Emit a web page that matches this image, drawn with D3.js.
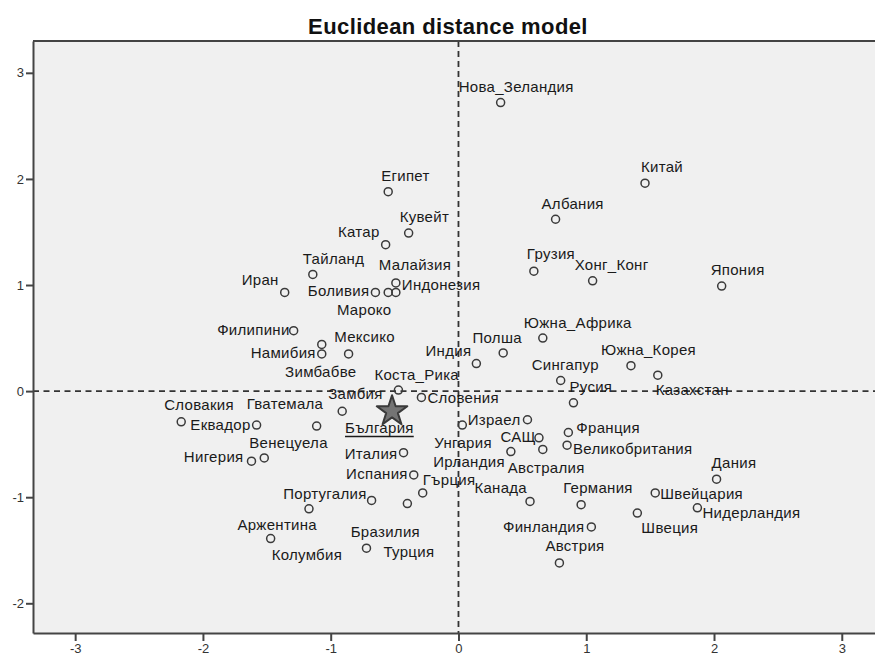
<!DOCTYPE html>
<html>
<head>
<meta charset="utf-8">
<script src="https://cdn.jsdelivr.net/npm/d3@7"></script>
<style>
  html, body { margin: 0; padding: 0; background: #ffffff; }
  svg { display: block; }
  text { font-family: Arial, "Liberation Sans", sans-serif; }
</style>
</head>
<body>
<svg id="chart" width="875" height="659"></svg>
<script>
// Two-dimensional MDS configuration (Euclidean distance model)
const countries = [
  "Нова_Зеландия", "Китай", "Албания", "Египет", "Кувейт", "Катар", "Тайланд", "Иран",
  "Боливия", "Мароко", "Малайзия", "Индонезия", "Грузия", "Хонг_Конг", "Япония", "Филипини",
  "Мексико", "Намибия", "Зимбабве", "Индия", "Полша", "Южна_Африка", "Сингапур", "Южна_Корея",
  "Казахстан", "Русия", "Коста_Рика", "Словения", "Замбия", "България", "Словакия", "Еквадор",
  "Гватемала", "Нигерия", "Венецуела", "Израел", "Унгария", "САЩ", "Ирландия", "Австралия",
  "Франция", "Великобритания", "Дания", "Швейцария", "Нидерландия", "Швеция", "Германия", "Канада",
  "Финландия", "Австрия", "Италия", "Испания", "Гърция", "Португалия", "Бразилия", "Аржентина",
  "Колумбия", "Турция"
];
const dimension1 = [
  0.33, 1.46, 0.76, -0.55, -0.39, -0.57, -1.14, -1.36,
  -0.65, -0.55, -0.49, -0.49, 0.59, 1.05, 2.06, -1.29,
  -0.86, -1.07, -1.07, 0.14, 0.35, 0.66, 0.80, 1.35,
  1.56, 0.90, -0.47, -0.29, -0.91, -0.52, -2.17, -1.58,
  -1.11, -1.62, -1.52, 0.54, 0.03, 0.63, 0.41, 0.66,
  0.86, 0.85, 2.02, 1.54, 1.87, 1.40, 0.96, 0.56,
  1.04, 0.79, -0.43, -0.35, -0.28, -0.68, -0.40, -1.17,
  -1.47, -0.72
];
const dimension2 = [
  2.72, 1.96, 1.62, 1.88, 1.49, 1.38, 1.10, 0.93,
  0.93, 0.93, 0.93, 1.02, 1.13, 1.04, 0.99, 0.57,
  0.35, 0.44, 0.35, 0.26, 0.36, 0.50, 0.10, 0.24,
  0.15, -0.11, 0.01, -0.06, -0.19, -0.19, -0.29, -0.32,
  -0.33, -0.66, -0.63, -0.27, -0.32, -0.44, -0.57, -0.55,
  -0.39, -0.51, -0.83, -0.96, -1.10, -1.15, -1.07, -1.04,
  -1.28, -1.62, -0.58, -0.79, -0.96, -1.03, -1.06, -1.11,
  -1.39, -1.48
];
const highlighted = "България";
const xTicks = [-3, -2, -1, 0, 1, 2, 3];
const yTicks = [-2, -1, 0, 1, 2, 3];
const chartTitle = "Euclidean distance model";

// Label placement around each marker: [dx, dy, text-anchor]
const labelPlacement = {
  "Нова_Зеландия": [-42, -16, "start"], "Китай": [-4, -17, "start"], "Албания": [-14, -16, "start"],
  "Египет": [-7, -16, "start"], "Кувейт": [-9, -17, "start"], "Катар": [-6, -13, "end"],
  "Тайланд": [-10, -16, "start"], "Иран": [-6, -13, "end"], "Боливия": [-6, -2, "end"],
  "Мароко": [-24, 17, "middle"], "Малайзия": [-17, -28, "start"], "Индонезия": [6, 2, "start"],
  "Грузия": [-7, -18, "start"], "Хонг_Конг": [-18, -16, "start"], "Япония": [-11, -17, "start"],
  "Филипини": [-4, -1, "end"], "Мексико": [16, -17, "middle"], "Намибия": [-6, 8, "end"],
  "Зимбабве": [-1, 18, "middle"], "Индия": [-5, -13, "end"], "Полша": [-6, -15, "middle"],
  "Южна_Африка": [-19, -16, "start"], "Сингапур": [-29, -16, "start"], "Южна_Корея": [-30, -16, "start"],
  "Казахстан": [-2, 14, "start"], "Русия": [-4, -16, "start"], "Коста_Рика": [-24, -16, "start"],
  "Словения": [6, 0, "start"], "Замбия": [-14, -18, "start"], "България": [-47, 16, "start"],
  "Словакия": [-17, -17, "start"], "Еквадор": [-6, -1, "end"], "Гватемала": [-70, -23, "start"],
  "Нигерия": [-8, -5, "end"], "Венецуела": [-15, -15, "start"], "Израел": [-7, 0, "end"],
  "Унгария": [-28, 17, "start"], "САЩ": [-3, -1, "end"], "Ирландия": [-6, 10, "end"],
  "Австралия": [-35, 18, "start"], "Франция": [8, -5, "start"], "Великобритания": [6, 3, "start"],
  "Дания": [-5, -17, "start"], "Швейцария": [5, 1, "start"], "Нидерландия": [5, 5, "start"],
  "Швеция": [4, 14, "start"], "Германия": [-18, -17, "start"], "Канада": [-3, -14, "end"],
  "Финландия": [-7, 0, "end"], "Австрия": [-14, -17, "start"], "Италия": [-6, 1, "end"],
  "Испания": [-6, -1, "end"], "Гърция": [0, -13, "start"], "Португалия": [-5, -7, "end"],
  "Бразилия": [-22, 28, "middle"], "Аржентина": [8, 16, "end"], "Колумбия": [1, 16, "start"],
  "Турция": [17, 3, "start"]
};

const points = countries.map((name, i) => ({ name, x: dimension1[i], y: dimension2[i] }));

const svg = d3.select("#chart");
const plot = { left: 33, right: 875, top: 41, bottom: 633 };

const x = d3.scaleLinear().domain([-3.33, 3.26]).range([plot.left, plot.right]);
const y = d3.scaleLinear().domain([-2.28, 3.30]).range([plot.bottom, plot.top]);

// plot background
svg.append("rect")
  .attr("x", plot.left).attr("y", plot.top)
  .attr("width", plot.right - plot.left + 5).attr("height", plot.bottom - plot.top)
  .attr("fill", "#f0f0f0");

// reference lines through the origin
const refColor = "#333";
svg.append("line")
  .attr("x1", x(0)).attr("x2", x(0)).attr("y1", plot.top).attr("y2", plot.bottom)
  .attr("stroke", refColor).attr("stroke-width", 1.8).attr("stroke-dasharray", "6,4");
svg.append("line")
  .attr("x1", plot.left).attr("x2", plot.right).attr("y1", y(0)).attr("y2", y(0))
  .attr("stroke", refColor).attr("stroke-width", 1.8).attr("stroke-dasharray", "6,4.5");

// frame: top border
svg.append("line")
  .attr("x1", plot.left).attr("x2", plot.right + 5).attr("y1", plot.top).attr("y2", plot.top)
  .attr("stroke", "#444").attr("stroke-width", 2);

// axes
const fmt = d => String(d);
const yAxis = svg.append("g")
  .attr("transform", `translate(${plot.left},0)`)
  .call(d3.axisLeft(y).tickValues(yTicks).tickFormat(fmt).tickSize(7).tickSizeOuter(0).tickPadding(2));
const xAxis = svg.append("g")
  .attr("transform", `translate(0,${plot.bottom})`)
  .call(d3.axisBottom(x).tickValues(xTicks).tickFormat(fmt).tickSize(8).tickSizeOuter(0).tickPadding(3));

[xAxis, yAxis].forEach(g => {
  g.select(".domain").attr("stroke", "#444").attr("stroke-width", 2);
  g.selectAll(".tick line").attr("stroke", "#444").attr("stroke-width", 2);
  g.selectAll(".tick text")
    .attr("fill", "#333")
    .style("font-family", "Arial, 'Liberation Sans', sans-serif")
    .style("font-size", "13px");
});

// title
svg.append("text")
  .attr("x", 448).attr("y", 34)
  .attr("text-anchor", "middle")
  .attr("font-weight", "bold")
  .attr("font-size", 22)
  .attr("letter-spacing", 0.4)
  .attr("fill", "#111")
  .text(chartTitle);

// markers
const regular = points.filter(d => d.name !== highlighted);
const special = points.filter(d => d.name === highlighted);

svg.append("g").selectAll("circle")
  .data(regular)
  .join("circle")
  .attr("cx", d => x(d.x))
  .attr("cy", d => y(d.y))
  .attr("r", 4)
  .attr("fill", "none")
  .attr("stroke", "#3a3a3a")
  .attr("stroke-width", 1.5);

svg.append("g").selectAll("path")
  .data(special)
  .join("path")
  .attr("transform", d => `translate(${x(d.x)},${y(d.y)})`)
  .attr("d", d3.symbol(d3.symbolStar, 290)())
  .attr("fill", "#747474")
  .attr("stroke", "#3a3a3a")
  .attr("stroke-width", 2)
  .attr("stroke-linejoin", "round");

// labels
svg.append("g").selectAll("text")
  .data(points)
  .join("text")
  .attr("x", d => x(d.x) + labelPlacement[d.name][0])
  .attr("y", d => y(d.y) + labelPlacement[d.name][1])
  .attr("text-anchor", d => labelPlacement[d.name][2])
  .attr("dominant-baseline", "central")
  .attr("font-size", 15)
  .attr("letter-spacing", 0.3)
  .attr("fill", "#1a1a1a")
  .style("text-decoration", d => d.name === highlighted ? "underline" : null)
  .text(d => d.name);
</script>
</body>
</html>
